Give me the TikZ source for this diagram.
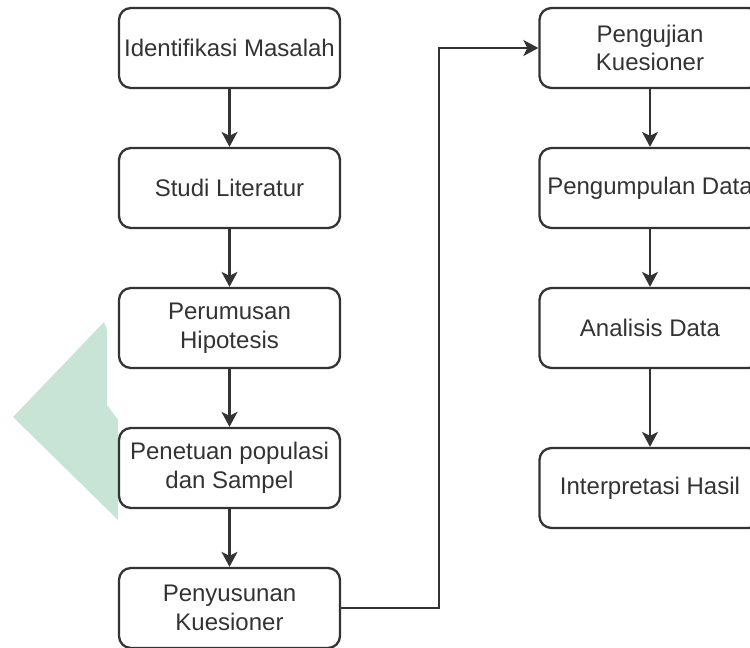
\documentclass[tikz,border=0pt]{standalone}
\usepackage{fontspec}
\setmainfont{Liberation Sans}
\usetikzlibrary{arrows.meta}
\definecolor{ink}{HTML}{333333}
\definecolor{leaf}{HTML}{C8E4D6}
\begin{document}
\begin{tikzpicture}[x=1pt,y=-1pt,
  stepbox/.style={draw=ink, line width=2.3pt, rounded corners=12pt,
    minimum width=221pt, minimum height=80pt, align=center,
    text=ink, font=\fontsize{24}{28.5}\selectfont, inner sep=0pt},
  flow/.style={draw=ink, line width=2.3pt,
    -{Stealth[length=15pt,width=16pt,inset=4pt]}}]
\useasboundingbox (0,0) rectangle (750,648);
% pale green mark at the left edge
\fill[leaf] (13,417) -- (104,322) -- (107,330) -- (107,405) -- (118,420) -- (118,520) -- cycle;
% left column
\node[stepbox] (a) at (229.5,48) {Identifikasi Masalah};
\node[stepbox] (b) at (229.5,188) {Studi Literatur};
\node[stepbox] (c) at (229.5,328) {Perumusan\\Hipotesis};
\node[stepbox] (d) at (229.5,468) {Penetuan populasi\\dan Sampel};
\node[stepbox] (e) at (229.5,608) {Penyusunan\\Kuesioner};
% right column
\node[stepbox] (f) at (650,48) {Pengujian\\Kuesioner};
\node[stepbox] (g) at (650,188) {Pengumpulan Data};
\node[stepbox] (h) at (650,328) {Analisis Data};
\node[stepbox] (i) at (650,488) {Interpretasi Hasil};
\coordinate (bend1) at (439,608);
\coordinate (bend2) at (439,48);
% connectors
\draw[flow] (a) -- (b);
\draw[flow] (b) -- (c);
\draw[flow] (c) -- (d);
\draw[flow] (d) -- (e);
\draw[flow] (e.east) -- (bend1) -- (bend2) -- (f.west);
\draw[flow] (f) -- (g);
\draw[flow] (g) -- (h);
\draw[flow] (h) -- (i);
\end{tikzpicture}
\end{document}
